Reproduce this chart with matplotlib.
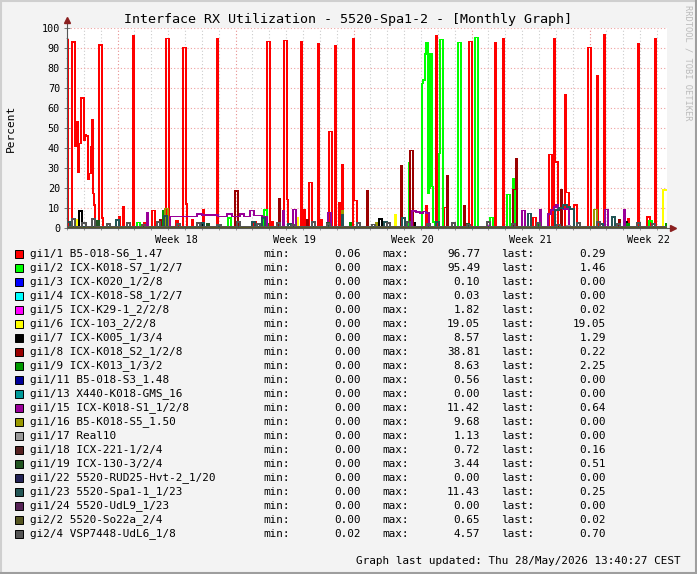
import numpy as np
import matplotlib
matplotlib.use("Agg")
import matplotlib.pyplot as plt
from matplotlib.patches import Rectangle

W, H = 697, 574
MONO = "DejaVu Sans Mono"

# ---------------- time axis (days relative to start of ISO week 18) -------------
START_DAY = -3.0
SAMPLES_PER_DAY = 16.857
N_SAMPLES = 600
week_starts = [0, 7, 14, 21, 28]
week_label_pos = [3.5, 10.5, 17.5, 24.5, 31.5]
week_labels = ["Week 18", "Week 19", "Week 20", "Week 21", "Week 22"]
y_ticks = [0, 10, 20, 30, 40, 50, 60, 70, 80, 90, 100]

# ---------------- legend ----------------
names = ["gi1/1 B5-018-S6_1.47", "gi1/2 ICX-K018-S7_1/2/7", "gi1/3 ICX-K020_1/2/8",
         "gi1/4 ICX-K018-S8_1/2/7", "gi1/5 ICX-K29-1_2/2/8", "gi1/6 ICX-103_2/2/8",
         "gi1/7 ICX-K005_1/3/4", "gi1/8 ICX-K018_S2_1/2/8", "gi1/9 ICX-K013_1/3/2",
         "gi1/11 B5-018-S3_1.48", "gi1/13 X440-K018-GMS_16", "gi1/15 ICX-K018-S1_1/2/8",
         "gi1/16 B5-K018-S5_1.50", "gi1/17 Real10", "gi1/18 ICX-221-1/2/4",
         "gi1/19 ICX-130-3/2/4", "gi1/22 5520-RUD25-Hvt-2_1/20", "gi1/23 5520-Spa1-1_1/23",
         "gi1/24 5520-UdL9_1/23", "gi2/2 5520-So22a_2/4", "gi2/4 VSP7448-UdL6_1/8"]
colors = ["#FF0000", "#00FF00", "#0000FF", "#00FFFF", "#FF00FF", "#FFFF00", "#000000",
          "#990000", "#009900", "#000099", "#009999", "#990099", "#999900", "#999999",
          "#552222", "#225522", "#222255", "#225555", "#552255", "#555522", "#555555"]
stat_min = [0.06, 0, 0, 0, 0, 0, 0, 0, 0, 0, 0, 0, 0, 0, 0, 0, 0, 0, 0, 0, 0.02]
stat_max = [96.77, 95.49, 0.10, 0.03, 1.82, 19.05, 8.57, 38.81, 8.63, 0.56, 0.00, 11.42,
            9.68, 1.13, 0.72, 3.44, 0.00, 11.43, 0.00, 0.65, 4.57]
stat_last = [0.29, 1.46, 0.00, 0.00, 0.02, 19.05, 1.29, 0.22, 2.25, 0.00, 0.00, 0.64,
             0.00, 0.00, 0.16, 0.51, 0.00, 0.25, 0.00, 0.02, 0.70]

# ---------------- series data: baseline + (sample, n_samples, value) ----------------
base_values = [0.6, 0.1, 0.02, 0.0, 0.1, 0.05, 0.4, 0.3, 0.5, 0.2, 0.0, 0.3,
               0.1, 0.4, 0.3, 0.5, 0.0, 0.6, 0.0, 0.2, 0.8]

spikes_gi1_1 = [(0, 1, 94), (1, 4, 1.5), (5, 3, 93), (8, 2, 40.7), (10, 1, 53), (11, 1, 28),
                (12, 2, 42.3), (14, 3, 65), (17, 1, 44), (18, 1, 46.5), (19, 2, 46),
                (21, 1, 24.3), (22, 2, 27.3), (24, 1, 40.7), (25, 1, 54), (26, 1, 17.3),
                (27, 1, 11.5), (32, 3, 91.5), (35, 1, 5), (52, 1, 5.5), (56, 1, 10.7),
                (66, 1, 96), (77, 1, 2.5), (85, 3, 8.7), (99, 3, 94.8), (109, 2, 3.5),
                (116, 3, 90.3), (119, 1, 12), (125, 1, 4), (136, 1, 9), (150, 1, 94.8),
                (187, 2, 3), (200, 3, 93.3), (205, 1, 3), (217, 3, 93.8), (220, 1, 14.3),
                (234, 1, 93.3), (237, 1, 9), (242, 3, 22.8), (251, 1, 92.3), (254, 1, 4.3),
                (262, 3, 48.2), (268, 1, 91), (272, 1, 12.8), (275, 1, 31.8),
                (286, 1, 94.5), (287, 3, 13.7), (359, 1, 11), (369, 1, 96), (377, 3, 10.3),
                (402, 3, 93.3), (428, 1, 92.5), (436, 1, 94.8), (466, 3, 5.3),
                (482, 3, 36.8), (487, 1, 94.5), (488, 3, 33), (498, 1, 66.5),
                (499, 3, 17.8), (507, 3, 11.5), (521, 3, 90.3), (530, 1, 76),
                (537, 1, 96.8), (551, 1, 2), (557, 1, 4), (561, 1, 4.5), (571, 1, 92),
                (580, 3, 5.5), (588, 1, 94.5), (599, 1, 0.29)]
spikes_gi1_2 = [(70, 3, 2.7), (161, 3, 5), (197, 3, 9), (342, 1, 32.7), (355, 1, 72.3),
                (356, 2, 74), (358, 1, 87), (359, 2, 92.8), (361, 1, 17.3), (362, 1, 20),
                (363, 2, 87), (365, 1, 20.7), (366, 2, 3), (372, 1, 37.3), (373, 3, 94.3),
                (391, 3, 92.8), (408, 3, 95.3), (423, 3, 5.3), (440, 3, 16.8),
                (446, 1, 24.8), (447, 1, 21.5), (582, 3, 3.5), (599, 1, 1.46)]
spikes_gi1_5 = [(150, 1, 1.82), (420, 1, 1.2), (599, 1, 0.02)]
spikes_gi1_6 = [(10, 1, 4), (230, 1, 5.3), (328, 1, 6.5), (596, 4, 19.05)]
spikes_gi1_7 = [(12, 3, 8.57), (136, 1, 2), (312, 3, 4.5), (346, 2, 2.5), (557, 3, 3),
                (599, 1, 1.29)]
spikes_gi1_8 = [(93, 1, 4), (168, 3, 18.5), (212, 1, 14.8), (240, 1, 4), (300, 1, 18.5),
                (334, 1, 31), (343, 3, 38.8), (380, 1, 26.2), (397, 1, 11),
                (446, 3, 19.3), (449, 1, 34.8), (494, 1, 19), (552, 1, 4), (599, 1, 0.22)]
spikes_gi1_9 = [(96, 1, 8.63), (200, 1, 2), (283, 1, 2.5), (470, 1, 2), (560, 2, 2),
                (599, 1, 2.25)]
spikes_gi1_15 = [(80, 1, 7.7), (103, 27, 5.7), (130, 5, 7), (135, 16, 6.5), (151, 9, 5.7),
                 (160, 5, 7), (165, 8, 5.7), (173, 4, 7), (177, 6, 5.7), (183, 4, 8.7),
                 (187, 8, 6.2), (195, 5, 5.7), (216, 1, 8.7), (226, 3, 9.3), (261, 3, 7.8),
                 (345, 4, 8.5), (349, 4, 8), (353, 3, 7.5), (356, 3, 8.3), (359, 3, 7.5),
                 (455, 3, 8.7), (473, 1, 9.3), (481, 3, 7), (484, 3, 9), (487, 2, 10.5),
                 (489, 2, 11.42), (491, 5, 10), (496, 6, 9.5), (538, 3, 9.3), (557, 1, 9),
                 (599, 1, 0.64)]
spikes_gi1_16 = [(98, 3, 9.68), (275, 1, 8.5), (309, 1, 2.7), (527, 3, 9.3), (599, 1, 0.0)]
spikes_gi1_17 = [(500, 3, 1.13), (599, 1, 0.0)]
spikes_gi1_19 = [(30, 2, 3.44), (140, 2, 2), (260, 2, 2.5), (400, 2, 2), (599, 1, 0.51)]
spikes_gi1_23 = [(0, 3, 3), (49, 3, 4), (97, 3, 6), (134, 3, 2.5), (185, 3, 3), (195, 3, 5),
                 (221, 3, 2), (275, 1, 6.5), (317, 3, 3), (335, 3, 5), (369, 3, 3),
                 (461, 3, 7.3), (488, 4, 9), (492, 4, 10), (496, 4, 11.43), (500, 3, 10.5),
                 (503, 4, 9.5), (533, 3, 2), (545, 3, 5.5), (599, 1, 0.25)]
spikes_gi2_4 = [(5, 3, 4.5), (15, 4, 2.5), (25, 3, 4.57), (40, 3, 2), (60, 3, 2.5),
                (75, 3, 1.8), (90, 3, 3), (110, 3, 2), (130, 3, 2.5), (150, 4, 1.5),
                (170, 3, 3), (190, 3, 2), (210, 3, 2.5), (225, 3, 1.8), (245, 3, 3),
                (260, 3, 2), (290, 3, 2.5), (305, 3, 1.8), (320, 3, 2.5), (340, 3, 3),
                (360, 3, 2), (385, 3, 2.5), (400, 3, 1.8), (420, 3, 3), (445, 3, 2),
                (470, 3, 2.5), (490, 3, 1.8), (510, 3, 2.5), (530, 3, 3), (550, 3, 2),
                (570, 3, 2.5), (585, 3, 2), (599, 1, 0.70)]

series_spikes = [spikes_gi1_1, spikes_gi1_2, [], [], spikes_gi1_5, spikes_gi1_6,
                 spikes_gi1_7, spikes_gi1_8, spikes_gi1_9, [], [], spikes_gi1_15,
                 spikes_gi1_16, spikes_gi1_17, [], spikes_gi1_19, [], spikes_gi1_23,
                 [], [], spikes_gi2_4]

# ---------------- figure ----------------
fig = plt.figure(figsize=(W / 100, H / 100), dpi=100, facecolor="#F3F3F3")
ax = fig.add_axes([67 / W, 1 - 228 / H, 600 / W, 200 / H], facecolor="white")

x = START_DAY + np.arange(N_SAMPLES + 1) / SAMPLES_PER_DAY
for base, spikes, col in zip(base_values, series_spikes, colors):
    vals = np.full(N_SAMPLES, base, dtype=float)
    for i, n, v in spikes:
        vals[i:i + n] = v
    y = np.append(vals, vals[-1])
    ax.step(x, y, where="post", color=col, lw=0.5, antialiased=False, zorder=3)

x_end = START_DAY + N_SAMPLES / SAMPLES_PER_DAY
ax.set_xlim(START_DAY, x_end)
ax.set_ylim(0, 100)

# grid
for d in range(int(np.ceil(START_DAY)), int(x_end) + 1):
    if d in week_starts:
        ax.axvline(d, color="#E89090", lw=0.8, ls=(0, (1, 2)), zorder=1)
    else:
        ax.axvline(d, color="#CCCCCC", lw=0.8, ls=(0, (1, 2)), zorder=1)
for v in y_ticks[1:]:
    ax.axhline(v, color="#EFA0A0", lw=0.8, ls=(0, (1, 2)), zorder=1)

for s in ["top", "right"]:
    ax.spines[s].set_visible(False)
ax.spines["left"].set_color("#555555")
ax.spines["bottom"].set_color("#555555")
ax.spines["left"].set_linewidth(0.8)
ax.spines["bottom"].set_linewidth(0.8)
ax.spines["left"].set_zorder(5)
ax.spines["bottom"].set_zorder(5)

ax.set_yticks(y_ticks)
ax.set_yticklabels([str(v) for v in y_ticks], fontfamily=MONO, fontsize=7.3)
ax.set_yticks(np.arange(5, 100, 10), minor=True)
ax.tick_params(axis="y", which="major", direction="inout", length=4, width=0.7,
               color="#777777", pad=3, labelcolor="black")
ax.tick_params(axis="y", which="minor", direction="inout", length=2, width=0.7, color="#999999")

ax.set_xticks(week_label_pos)
ax.set_xticklabels(week_labels, fontfamily=MONO, fontsize=7.3)
ax.set_xticks(np.arange(np.ceil(START_DAY), x_end), minor=True)
ax.tick_params(axis="x", which="major", length=0, pad=5)
ax.tick_params(axis="x", which="minor", direction="inout", length=3, width=0.7, color="#999999")

# axis arrows
ax.plot([START_DAY, START_DAY], [100, 103], color="#555555", lw=0.8, clip_on=False, zorder=6)
ax.plot([START_DAY], [104], marker="^", color="#8B2020", ms=4.5, clip_on=False, zorder=6)
ax.plot([x_end, x_end + 0.25], [0, 0], color="#555555", lw=0.8, clip_on=False, zorder=6)
ax.plot([x_end + 0.35], [0], marker=">", color="#8B2020", ms=4.5, clip_on=False, zorder=6)

# texts
fig.text(348 / W, 1 - 19 / H, "Interface RX Utilization - 5520-Spa1-2 - [Monthly Graph]",
         ha="center", va="center", fontsize=9.6, fontfamily=MONO)
fig.text(11 / W, 1 - 128 / H, "Percent", rotation=90, ha="center", va="center",
         fontsize=8, fontfamily=MONO)
fig.text(688 / W, 1 - 5 / H, "RRDTOOL / TOBI OETIKER", rotation=270, ha="center", va="top",
         fontsize=6.3, fontfamily=MONO, color="#BBBBBB")

# legend
for i, (nm, col) in enumerate(zip(names, colors)):
    yc = 254 + 14 * i
    fig.add_artist(Rectangle((15 / W, 1 - (yc + 4) / H), 8 / W, 8 / H,
                             transform=fig.transFigure, facecolor=col,
                             edgecolor="black", lw=0.7))
    fy = 1 - yc / H
    fig.text(30 / W, fy, nm, ha="left", va="center", fontsize=7.9, fontfamily=MONO)
    fig.text(263 / W, fy, "min:", ha="left", va="center", fontsize=7.9, fontfamily=MONO)
    fig.text(361 / W, fy, f"{stat_min[i]:.2f}", ha="right", va="center", fontsize=7.9,
             fontfamily=MONO)
    fig.text(382 / W, fy, "max:", ha="left", va="center", fontsize=7.9, fontfamily=MONO)
    fig.text(480 / W, fy, f"{stat_max[i]:.2f}", ha="right", va="center", fontsize=7.9,
             fontfamily=MONO)
    fig.text(501 / W, fy, "last:", ha="left", va="center", fontsize=7.9, fontfamily=MONO)
    fig.text(606 / W, fy, f"{stat_last[i]:.2f}", ha="right", va="center", fontsize=7.9,
             fontfamily=MONO)

fig.text(681 / W, 1 - 561 / H, "Graph last updated: Thu 28/May/2026 13:40:27 CEST",
         ha="right", va="center", fontsize=7.9, fontfamily=MONO)

# frame
fig.add_artist(Rectangle((0.5 / W, 0.5 / H), (W - 1) / W, (H - 1) / H,
                         transform=fig.transFigure, fill=False, edgecolor="#CFCFCF", lw=1.5))
fig.add_artist(plt.Line2D([1 - 1 / W, 1 - 1 / W], [0, 1], transform=fig.transFigure,
                          color="#9E9E9E", lw=1.5))
fig.add_artist(plt.Line2D([0, 1], [1 / H, 1 / H], transform=fig.transFigure,
                          color="#9E9E9E", lw=1.5))

fig.savefig("out.png", dpi=100, facecolor=fig.get_facecolor())
